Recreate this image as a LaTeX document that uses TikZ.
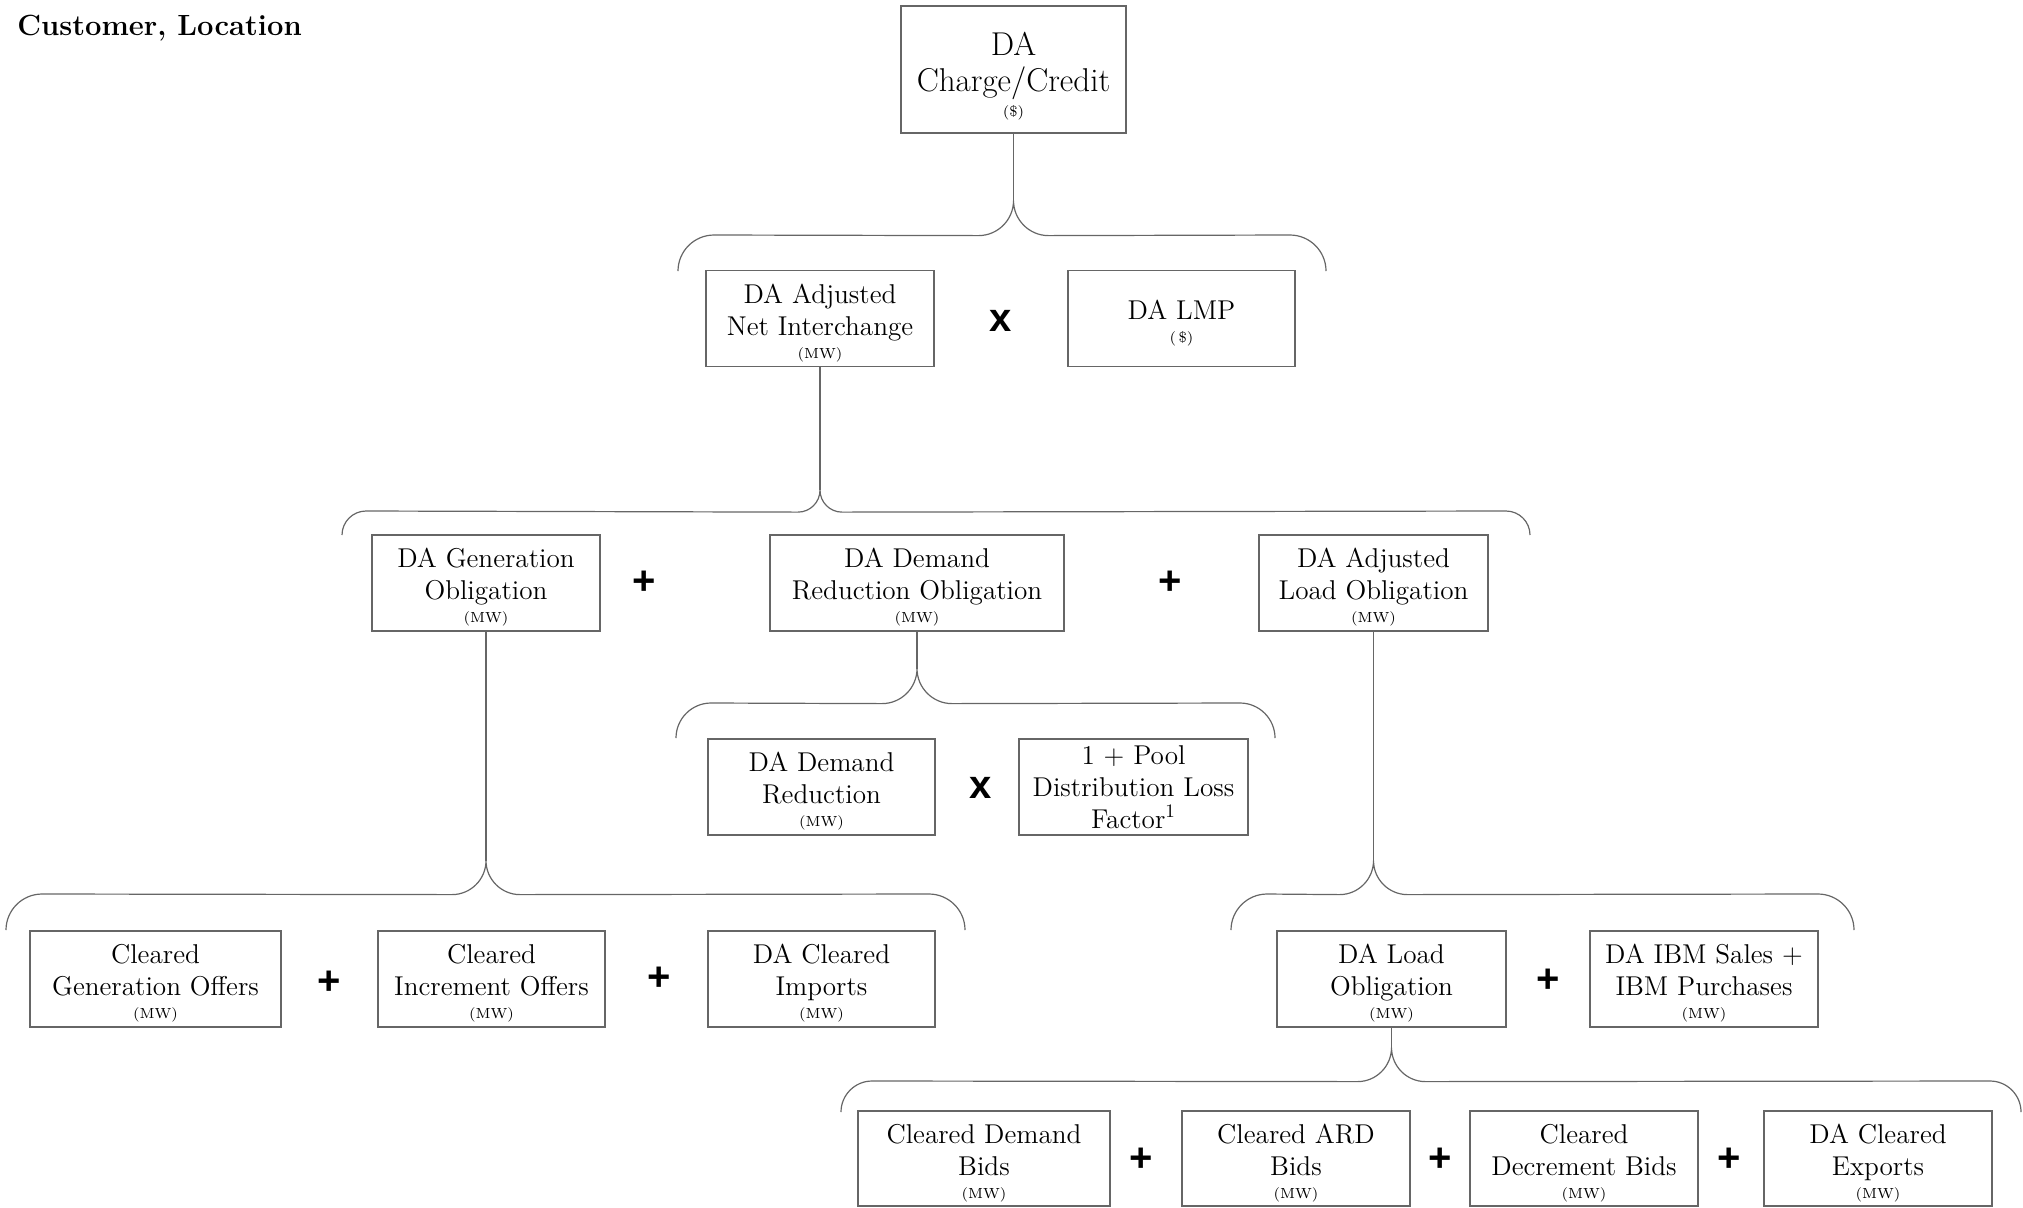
\documentclass[tikz,border=0pt]{standalone}
\usepackage{fontspec}
\newfontfamily\opfont{Liberation Sans}
\usetikzlibrary{calc}
\definecolor{linec}{HTML}{666666}
\newcommand{\sm}[1]{{\fontsize{7.3}{8}\selectfont #1}}
\newcommand{\tp}{\rule{0pt}{14pt}}
% #1 tip coordinate, #2 left end x, #3 right end x, #4 horizontal y, #5 end y, #6 end radius, #7 centre radius
\newcommand{\cbrace}[7]{%
  \draw[conn] (#2,#5) .. controls +(0,-0.55*#6) and +(-0.55*#6,0) .. (#2+#6,#4)
    -- ($(#1)+(-#7,#7)$) .. controls +(0.55*#7,0) and +(0,0.55*#7) .. (#1)
    .. controls +(0,0.55*#7) and +(-0.55*#7,0) .. ($(#1)+(#7,#7)$)
    -- (#3-#6,#4) .. controls +(0.55*#6,0) and +(0,-0.55*#6) .. (#3,#5);}
\tikzset{
  box/.style={draw=linec, line width=0.6pt, minimum height=48pt, inner sep=0pt,
    align=center, font=\fontsize{13.6}{16}\selectfont},
  conn/.style={draw=linec, line width=0.6pt},
  op/.style={font=\opfont\bfseries\fontsize{20}{20}\selectfont, inner sep=0pt},
}
\begin{document}
\begin{tikzpicture}[x=0.5pt,y=-0.5pt]
\useasboundingbox (0,0) rectangle (2023,1207);

\node[anchor=base west, inner sep=0pt, font=\bfseries\fontsize{14.6}{17}\selectfont] (title) at (17,35) {Customer, Location};

% level 0
\node[box, minimum width=112.5pt, minimum height=63.5pt, font=\fontsize{16.5}{18}\selectfont] (top) at (1013.5,69.5) {\rule{0pt}{18pt}DA\\Charge/Credit\\[-5.5pt]\sm{(\$)}};

% level 1
\node[box, minimum width=114pt] (adjni) at (820,318.5) {\tp DA Adjusted\\Net Interchange\\[-4.5pt]\sm{(MW)}};
\node[op] (o1) at (1001,321) {x};
\node[box, minimum width=113.5pt] (lmp) at (1181.5,318.5) {\tp DA LMP\\[-4.5pt]\sm{(\,\$)}};

% level 2
\node[box, minimum width=114pt] (genobl) at (486,583) {\tp DA Generation\\Obligation\\[-4.5pt]\sm{(MW)}};
\node[op] (o2) at (644,583) {+};
\node[box, minimum width=147pt] (demredobl) at (917,583) {\tp DA Demand\\Reduction Obligation\\[-4.5pt]\sm{(MW)}};
\node[op] (o3) at (1170,583) {+};
\node[box, minimum width=114.5pt] (adjload) at (1373.5,583) {\tp DA Adjusted\\Load Obligation\\[-4.5pt]\sm{(MW)}};

% demand reduction breakdown
\node[box, minimum width=113.5pt] (demred) at (821.5,787) {\tp DA Demand\\Reduction\\[-4.5pt]\sm{(MW)}};
\node[op] (o4) at (981,788) {x};
\node[box, minimum width=114.5pt] (pool) at (1133.5,787) {1 + Pool\\Distribution Loss\\Factor\textsuperscript{1}};

% generation breakdown
\node[box, minimum width=125.5pt] (cgo) at (155.5,979) {\tp Cleared\\Generation Offers\\[-4.5pt]\sm{(MW)}};
\node[op] (o5) at (329,983) {+};
\node[box, minimum width=113.5pt] (cio) at (491.5,979) {\tp Cleared\\Increment Offers\\[-4.5pt]\sm{(MW)}};
\node[op] (o6) at (659,979) {+};
\node[box, minimum width=113.5pt] (daci) at (821.5,979) {\tp DA Cleared\\Imports\\[-4.5pt]\sm{(MW)}};

% load breakdown
\node[box, minimum width=114.5pt] (dalo) at (1391.5,979) {\tp DA Load\\Obligation\\[-4.5pt]\sm{(MW)}};
\node[op] (o7) at (1548,981) {+};
\node[box, minimum width=114pt] (ibm) at (1704,979) {\tp DA IBM Sales +\\IBM Purchases\\[-4.5pt]\sm{(MW)}};

% bottom row
\node[box, minimum width=126pt, minimum height=47.5pt] (cdb) at (984,1158.5) {\tp Cleared Demand\\Bids\\[-4.5pt]\sm{(MW)}};
\node[op] (o8) at (1141,1160) {+};
\node[box, minimum width=114pt, minimum height=47.5pt] (ard) at (1296,1158.5) {\tp Cleared ARD\\Bids\\[-4.5pt]\sm{(MW)}};
\node[op] (o9) at (1440,1160) {+};
\node[box, minimum width=114pt, minimum height=47.5pt] (cdec) at (1584,1158.5) {\tp Cleared\\Decrement Bids\\[-4.5pt]\sm{(MW)}};
\node[op] (o10) at (1729,1160) {+};
\node[box, minimum width=114pt, minimum height=47.5pt] (dace) at (1878,1158.5) {\tp DA Cleared\\Exports\\[-4.5pt]\sm{(MW)}};

% stems
\coordinate (t1) at ($(top.south)+(0,67)$);
\coordinate (t2) at ($(adjni.south)+(0,123)$);
\coordinate (t3) at ($(genobl.south)+(0,229)$);
\coordinate (t4) at ($(demredobl.south)+(0,37)$);
\coordinate (t5) at ($(adjload.south)+(0,229)$);
\coordinate (t6) at ($(dalo.south)+(0,20)$);
\draw[conn] (top.south) -- (t1);
\draw[conn] (adjni.south) -- (t2);
\draw[conn] (genobl.south) -- (t3);
\draw[conn] (demredobl.south) -- (t4);
\draw[conn] (adjload.south) -- (t5);
\draw[conn] (dalo.south) -- (t6);

% braces
\cbrace{t1}{678}{1326}{235}{271}{36}{35}
\cbrace{t2}{342}{1530}{511}{535}{24}{22}
\cbrace{t3}{6}{965}{894}{930}{36}{34}
\cbrace{t4}{676}{1275}{703}{738}{35}{35}
\cbrace{t5}{1231}{1854}{894}{930}{36}{34}
\cbrace{t6}{841}{2021}{1081}{1112}{31}{34}
\end{tikzpicture}
\end{document}
